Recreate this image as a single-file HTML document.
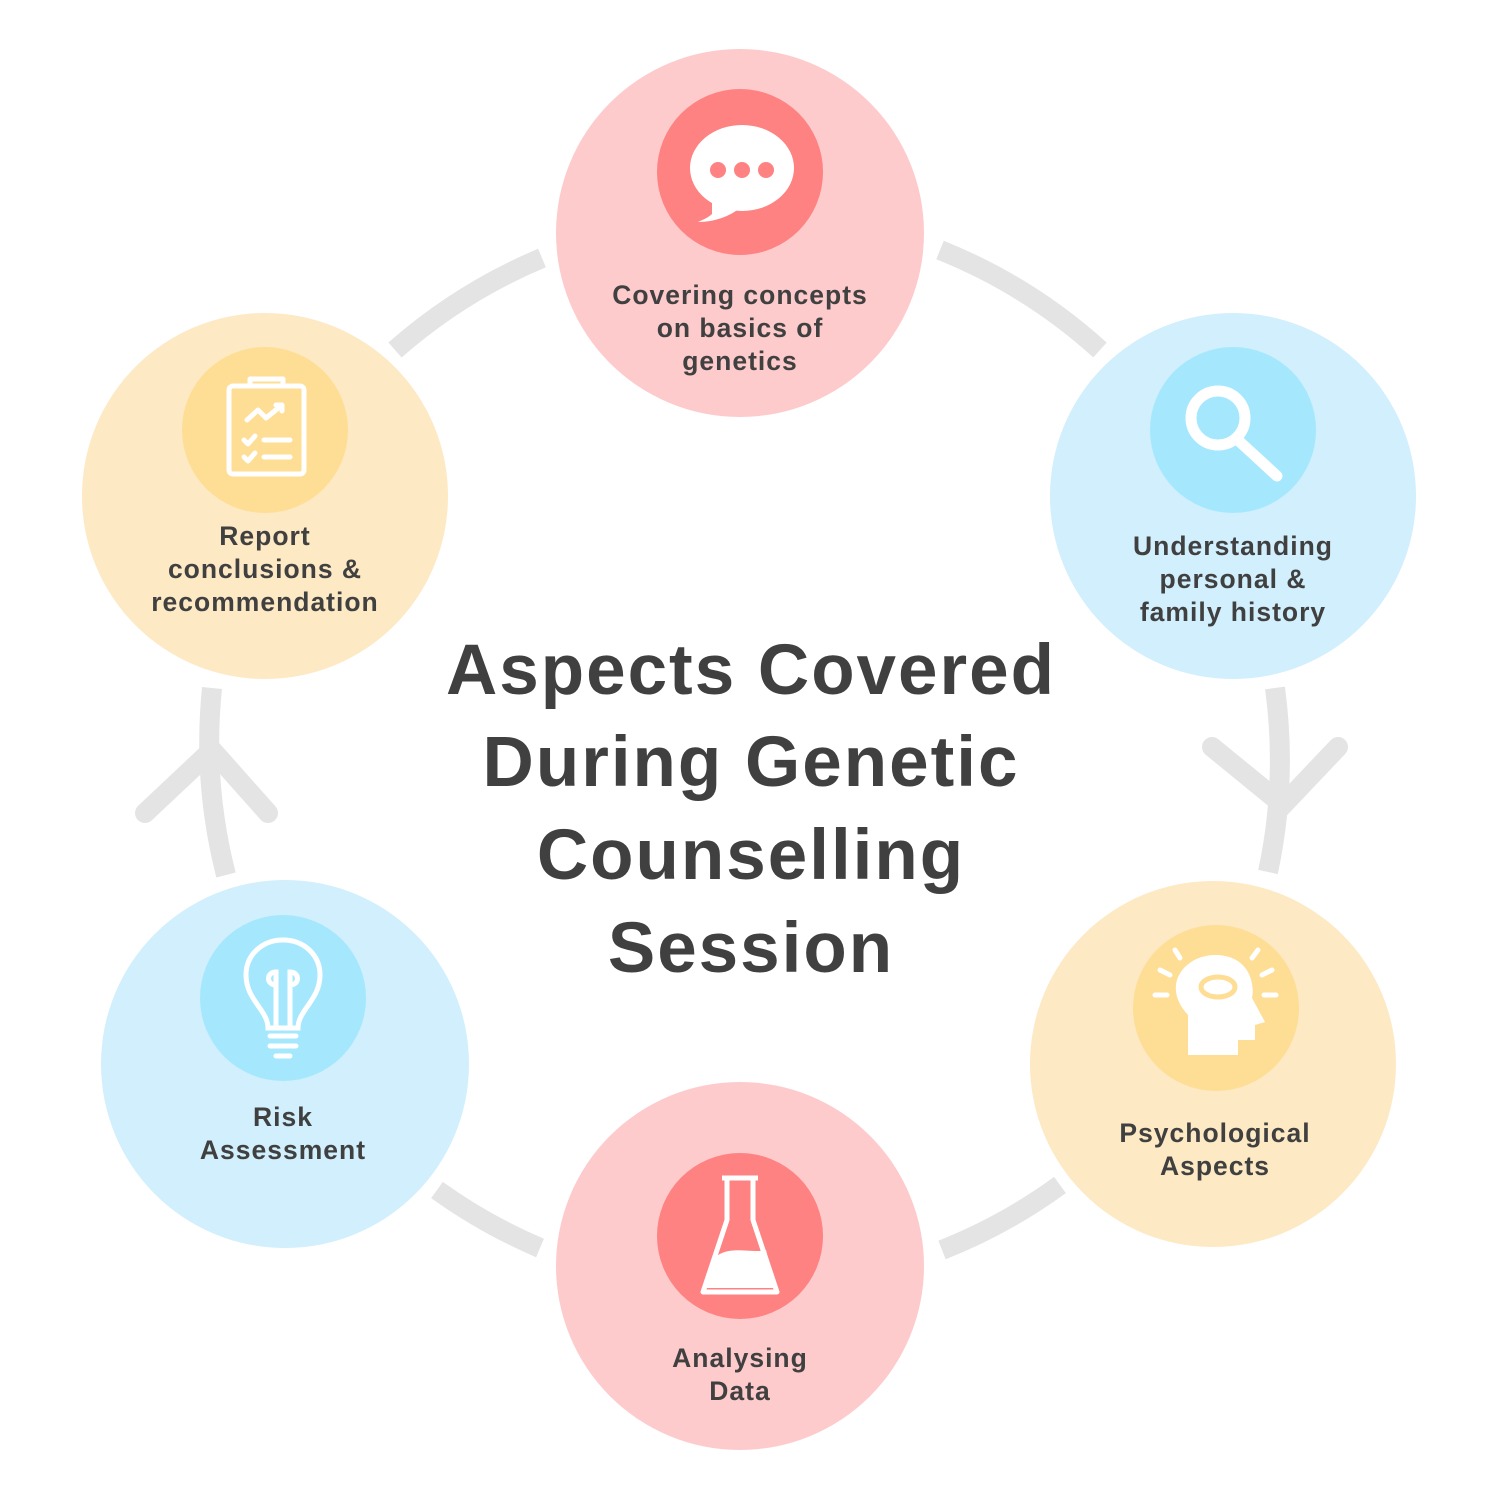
<!DOCTYPE html>
<html><head><meta charset="utf-8"><style>
body{margin:0;background:#fff}
svg{display:block}
.t{font-family:"Liberation Sans",sans-serif;font-weight:bold;fill:#404040;text-anchor:middle}
.l{font-size:26.5px;letter-spacing:1px}
.h{font-size:71px;letter-spacing:2px}
</style></head><body>
<svg width="1500" height="1500" viewBox="0 0 1500 1500" xmlns="http://www.w3.org/2000/svg">
<g fill="none" stroke="#e4e4e4" stroke-width="20">
<path d="M542 258 A535 535 0 0 0 395 350"/>
<path d="M940 250 A535 535 0 0 1 1100 350"/>
<path d="M1275 688 A535 535 0 0 1 1268 872"/>
<path d="M1060 1185 A535 535 0 0 1 942 1250"/>
<path d="M540 1248 A535 535 0 0 1 437 1190"/>
<path d="M226 875 A535 535 0 0 1 212 688"/>
<g stroke-linecap="round">
<path d="M1212 747 L1283 805 L1338 747"/>
<path d="M145 813 L212 750 L268 813"/>
</g>
</g>
<circle cx="740" cy="233" r="184" fill="#fecbcc"/>
<circle cx="740" cy="172" r="83" fill="#fe8281"/>
<circle cx="1233" cy="496" r="183" fill="#d1effc"/>
<circle cx="1233" cy="430" r="83" fill="#a5e8fd"/>
<circle cx="1213" cy="1064" r="183" fill="#fde9c4"/>
<circle cx="1216" cy="1008" r="83" fill="#fedd95"/>
<circle cx="740" cy="1266" r="184" fill="#fecbcc"/>
<circle cx="740" cy="1236" r="83" fill="#fe8281"/>
<circle cx="285" cy="1064" r="184" fill="#d1effc"/>
<circle cx="283" cy="998" r="83" fill="#a5e8fd"/>
<circle cx="265" cy="496" r="183" fill="#fde9c4"/>
<circle cx="265" cy="430" r="83" fill="#fedd95"/>
<!-- speech bubble -->
<ellipse cx="742" cy="168" rx="52" ry="43" fill="#fff"/>
<path d="M712 198 L712 214 C708 218 702 220 698 222 C715 222 730 216 740 208Z" fill="#fff"/>
<g fill="#fe8281"><circle cx="718" cy="170" r="8"/><circle cx="742" cy="170" r="8"/><circle cx="766" cy="170" r="8"/></g>
<!-- magnifier -->
<g fill="none" stroke="#fff" stroke-width="11" stroke-linecap="round"><circle cx="1218" cy="418" r="27"/><path d="M1240 442 L1277 476"/></g>
<!-- head -->
<g fill="#fff"><path d="M1188 1055 L1188 1015 C1160 985 1185 955 1215 955 C1250 955 1255 985 1252 998 L1265 1022 L1255 1025 L1255 1040 L1238 1040 L1238 1055Z"/></g>
<ellipse cx="1218" cy="987" rx="17" ry="10" fill="none" stroke="#fedd95" stroke-width="5"/>
<g stroke="#fff" stroke-width="5" stroke-linecap="round"><path d="M1160 970 L1170 975"/><path d="M1155 995 L1167 995"/><path d="M1175 950 L1180 958"/><path d="M1258 950 L1252 958"/><path d="M1272 970 L1262 975"/><path d="M1276 995 L1264 995"/></g>
<!-- flask -->
<g fill="none" stroke="#fff" stroke-width="5" stroke-linejoin="round"><path d="M722 1178 L758 1178 M727 1178 L727 1220 L703 1292 L777 1292 L753 1220 L753 1178"/></g>
<path d="M714 1258 C730 1244 750 1254 766 1250 L775 1288 L706 1288Z" fill="#fff"/>
<!-- bulb -->
<g fill="none" stroke="#fff" stroke-width="5" stroke-linecap="round"><path d="M268 1028 C268 1010 246 1000 246 975 C246 955 262 940 283 940 C304 940 320 955 320 975 C320 1000 298 1010 298 1028Z"/><path d="M276 1026 L276 985 M290 1026 L290 985 M276 985 C266 985 266 972 276 972 L276 985 M290 985 C300 985 300 972 290 972 L290 985"/><path d="M270 1036 L296 1036 M270 1046 L296 1046 M276 1056 L290 1056"/></g>
<!-- clipboard -->
<g fill="none" stroke="#fff" stroke-width="5" stroke-linecap="round" stroke-linejoin="round"><rect x="229" y="386" width="75" height="88" rx="4"/><path d="M250 386 L250 379 L283 379 L283 386"/><path d="M247 420 L258 410 L266 418 L282 405 M276 405 L282 405 L282 411"/><path d="M244 440 L248 444 L255 436 M264 440 L290 440 M244 457 L248 461 L255 453 M264 457 L290 457"/></g>
<g class="t l">
<text x="740" y="304">Covering concepts</text><text x="740" y="337">on basics of</text><text x="740" y="370">genetics</text>
<text x="1233" y="555">Understanding</text><text x="1233" y="588">personal &amp;</text><text x="1233" y="621">family history</text>
<text x="1215" y="1142">Psychological</text><text x="1215" y="1175">Aspects</text>
<text x="740" y="1367">Analysing</text><text x="740" y="1400">Data</text>
<text x="283" y="1126">Risk</text><text x="283" y="1159">Assessment</text>
<text x="265" y="545">Report</text><text x="265" y="578">conclusions &amp;</text><text x="265" y="611">recommendation</text>
</g>
<g class="t h">
<text x="751" y="694">Aspects Covered</text><text x="751" y="786">During Genetic</text><text x="751" y="879">Counselling</text><text x="751" y="972">Session</text>
</g>
</svg>
</body></html>
